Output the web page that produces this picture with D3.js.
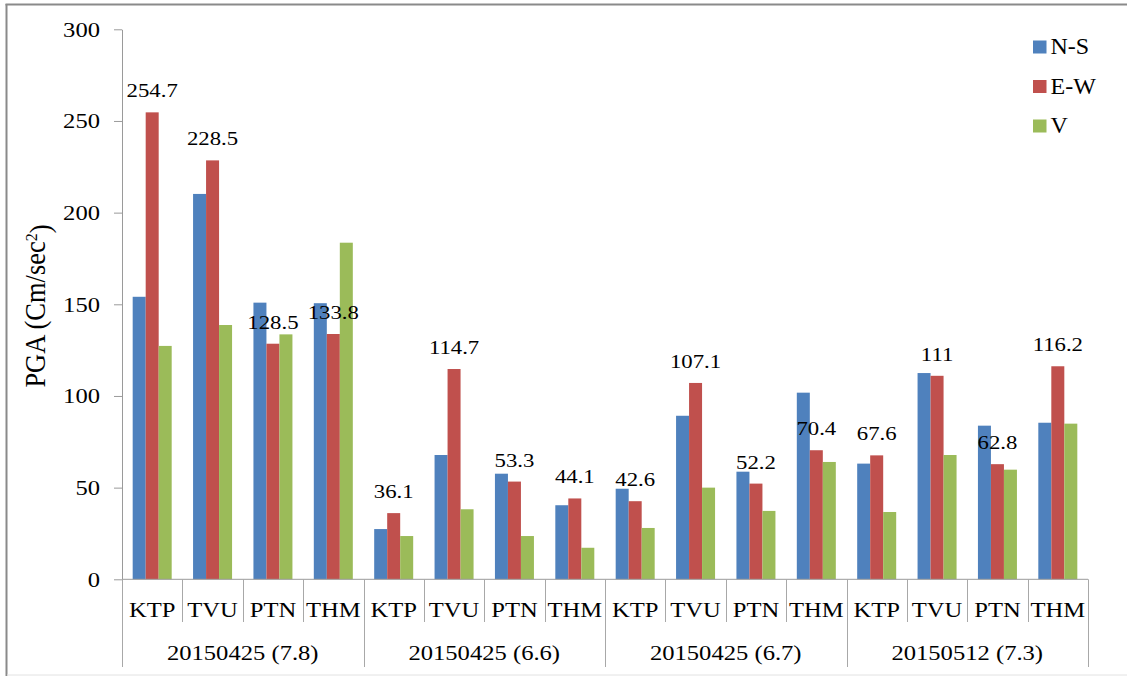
<!DOCTYPE html>
<html>
<head>
<meta charset="utf-8">
<script src="https://cdn.jsdelivr.net/npm/d3@7"></script>
<style>
  html, body { margin: 0; padding: 0; background: #fff; }
  svg { display: block; }
  text { font-family: "Liberation Serif", "Times New Roman", serif; fill: #000; }
</style>
</head>
<body>
<svg id="chart" width="1127" height="676"></svg>
<script>
// ---- data ----
const events = ["20150425 (7.8)", "20150425 (6.6)", "20150425 (6.7)", "20150512 (7.3)"];
const stations = ["KTP", "TVU", "PTN", "THM"];
const seriesNames = ["N-S", "E-W", "V"];
const seriesColors = ["#4F81BD", "#C0504D", "#9BBB59"];
// values per event, per station (order KTP, TVU, PTN, THM)
const nsValues = [
  [154.1, 210.2, 150.9, 150.6],
  [27.4, 67.8, 57.6, 40.4],
  [49.4, 89.2, 58.7, 101.8],
  [63.1, 112.5, 83.8, 85.4]
];
const ewValues = [
  [254.7, 228.5, 128.5, 133.8],
  [36.1, 114.7, 53.3, 44.1],
  [42.6, 107.1, 52.2, 70.4],
  [67.6, 111, 62.8, 116.2]
];
const vValues = [
  [127.3, 138.7, 133.6, 183.6],
  [23.6, 38.2, 23.6, 17.2],
  [28.0, 50.0, 37.3, 64.0],
  [36.7, 67.8, 59.8, 84.9]
];
const yTicks = [0, 50, 100, 150, 200, 250, 300];
const yTitle = "PGA (Cm/sec";
const yTitleSup = "2";

// ---- layout ----
const SX = 1.23; // horizontal stretch of the source image
const plot = { left: 122, right: 1088, top: 29.3, bottom: 579.3 };
const svg = d3.select("#chart");

// frame
svg.append("line").attr("x1", 6.5).attr("x2", 6.5).attr("y1", 4).attr("y2", 676)
  .attr("stroke", "#8a8a8a").attr("stroke-width", 2);
svg.append("line").attr("x1", 5.5).attr("x2", 1127).attr("y1", 4.5).attr("y2", 4.5)
  .attr("stroke", "#8a8a8a").attr("stroke-width", 2);
svg.append("line").attr("x1", 7).attr("x2", 1127).attr("y1", 675).attr("y2", 675)
  .attr("stroke", "#e2e2e2").attr("stroke-width", 1);

// build rows
const rows = [];
events.forEach((ev, ei) => {
  stations.forEach((st, si) => {
    rows.push({
      key: ei + "|" + st, event: ev, ei, station: st,
      values: [nsValues[ei][si], ewValues[ei][si], vValues[ei][si]]
    });
  });
});

const x0 = d3.scaleBand().domain(rows.map(r => r.key)).range([plot.left, plot.right]).padding(0);
const barW = 13;
const bw = x0.bandwidth();
const x1 = d3.scaleBand().domain(seriesNames)
  .range([(bw - barW * 3) / 2, (bw + barW * 3) / 2]).padding(0);
const y = d3.scaleLinear().domain([0, 300]).range([plot.bottom, plot.top]);

// bars
const g = svg.append("g");
const cat = g.selectAll("g.cat").data(rows).join("g")
  .attr("class", "cat")
  .attr("transform", d => `translate(${x0(d.key)},0)`);
cat.selectAll("rect").data(d => d.values.map((v, i) => ({ s: seriesNames[i], v, i })))
  .join("rect")
  .attr("x", d => x1(d.s))
  .attr("width", x1.bandwidth())
  .attr("y", d => y(d.v))
  .attr("height", d => y(0) - y(d.v))
  .attr("fill", d => seriesColors[d.i]);

// y axis
const yAxis = d3.axisLeft(y).tickValues(yTicks).tickSize(8).tickSizeOuter(0).tickPadding(0);
const ya = svg.append("g").attr("transform", `translate(${plot.left},0)`).call(yAxis);
ya.select(".domain").attr("stroke", "#9a9a9a");
ya.selectAll(".tick line").attr("stroke", "#9a9a9a");
ya.selectAll(".tick text")
  .attr("x", null).attr("dy", "0.34em")
  .attr("transform", `translate(-22,0) scale(${SX},1)`)
  .style("font-size", "20px").style("font-family", "Liberation Serif, serif")
  .attr("text-anchor", "end").attr("fill", "#000");

// x axis (category labels)
const xAxis = d3.axisBottom(x0).tickSize(0).tickSizeOuter(0).tickPadding(0)
  .tickFormat(k => k.split("|")[1]);
const xa = svg.append("g").attr("transform", `translate(0,${plot.bottom})`).call(xAxis);
xa.select(".domain").remove();
xa.selectAll(".tick text")
  .attr("y", null).attr("dy", null)
  .attr("transform", `translate(0,37.5) scale(${SX},1)`)
  .style("font-size", "20px").style("font-family", "Liberation Serif, serif")
  .attr("fill", "#000");

// axis line
svg.append("line").attr("x1", plot.left).attr("x2", plot.right)
  .attr("y1", plot.bottom).attr("y2", plot.bottom).attr("stroke", "#9a9a9a");

// dividers
const edges = rows.map(r => x0(r.key)).concat([plot.right]);
svg.selectAll("line.div").data(edges).join("line")
  .attr("class", "div")
  .attr("x1", d => Math.round(d) + 0.5).attr("x2", d => Math.round(d) + 0.5)
  .attr("y1", plot.bottom)
  .attr("y2", (d, i) => (i % 4 === 0) ? 667 : 622)
  .attr("stroke", "#a8a8a8");

// group labels
svg.selectAll("text.grp").data(events).join("text")
  .attr("class", "grp")
  .attr("transform", (d, i) => {
    const a = x0(i + "|" + stations[0]);
    const b = x0(i + "|" + stations[3]) + bw;
    return `translate(${(a + b) / 2},660) scale(${SX},1)`;
  })
  .attr("text-anchor", "middle")
  .style("font-size", "20px")
  .text(d => d);

// value labels above E-W bars
svg.selectAll("text.val").data(rows).join("text")
  .attr("class", "val")
  .attr("transform", d => `translate(${x0(d.key) + x1("E-W") + barW / 2},${y(d.values[1]) - 15}) scale(${SX},1)`)
  .attr("text-anchor", "middle")
  .style("font-size", "18.5px")
  .text(d => String(d.values[1]));

// y title
const yt = svg.append("text")
  .attr("transform", `translate(45,306) scale(1.1,1) rotate(-90)`)
  .attr("text-anchor", "middle")
  .style("font-size", "26.5px");
yt.append("tspan").text(yTitle);
yt.append("tspan").attr("dy", "-0.45em").style("font-size", "16px").text(yTitleSup);
yt.append("tspan").attr("dy", "0.45em").text(")");

// legend
const lg = svg.append("g").selectAll("g").data(seriesNames).join("g")
  .attr("transform", (d, i) => `translate(1033,${54 + i * 39.5})`);
lg.append("rect").attr("x", 0).attr("y", -13.5).attr("width", 13.5).attr("height", 13)
  .attr("fill", (d, i) => seriesColors[i]);
lg.append("text").attr("x", 17.5).attr("y", 0)
  .style("font-size", "24px").text(d => d);
</script>
</body>
</html>
